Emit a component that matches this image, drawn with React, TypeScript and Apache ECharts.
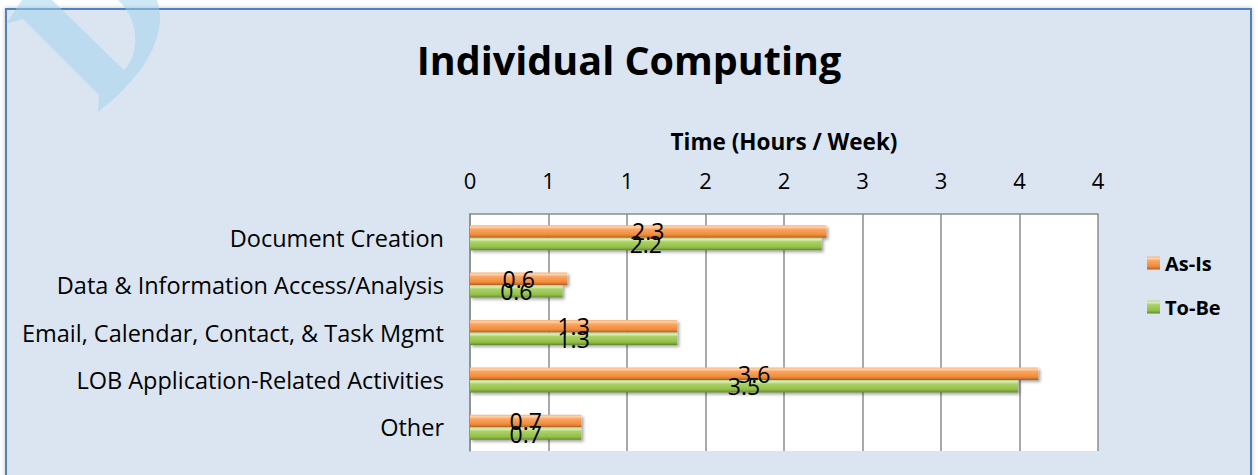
import React, { useEffect, useRef } from "react";
import * as echarts from "echarts";

const categories = [
  "Document Creation",
  "Data & Information Access/Analysis",
  "Email, Calendar, Contact, & Task Mgmt",
  "LOB Application-Related Activities",
  "Other",
];
const asIsValues = [2.27, 0.62, 1.32, 3.62, 0.71];
const toBeValues = [2.24, 0.59, 1.32, 3.49, 0.71];
const tickLabels = ["0", "1", "1", "2", "2", "3", "3", "4", "4"];
const seriesNames = ["As-Is", "To-Be"];

const WATERMARK_D =
  "M22 0 L52 0 L124 70 C140 55 140 20 118 0 L157 0 C168 30 150 72 98 112 L99 95 L23 19 L6 24 Z";

let registered = false;
function registerWatermark() {
  if (registered) return;
  registered = true;
  echarts.graphic.registerShape(
    "watermark",
    echarts.graphic.extendPath(WATERMARK_D, {}) as any
  );
}

const FONT = "'Open Sans', sans-serif";

const orangeGrad = {
  type: "linear",
  x: 0,
  y: 0,
  x2: 0,
  y2: 1,
  colorStops: [
    { offset: 0, color: "#f6b27a" },
    { offset: 0.15, color: "#fdd3ab" },
    { offset: 0.32, color: "#f9a663" },
    { offset: 0.75, color: "#f08c3b" },
    { offset: 0.9, color: "#d27229" },
    { offset: 1, color: "#a85a20" },
  ],
};
const greenGrad = {
  type: "linear",
  x: 0,
  y: 0,
  x2: 0,
  y2: 1,
  colorStops: [
    { offset: 0, color: "#b6d483" },
    { offset: 0.15, color: "#dcecb9" },
    { offset: 0.32, color: "#acd266" },
    { offset: 0.75, color: "#93c049" },
    { offset: 0.9, color: "#79a339" },
    { offset: 1, color: "#5f8229" },
  ],
};

export default function App() {
  const ref = useRef<HTMLDivElement>(null);
  useEffect(() => {
    if (!ref.current) return;
    registerWatermark();
    const chart = echarts.init(ref.current, undefined, { renderer: "svg" });
    const labelCommon = {
      show: true,
      position: "inside",
      color: "#000",
      fontFamily: FONT,
      fontSize: 23,
      formatter: (p: any) => Number(p.value).toFixed(1),
    };
    chart.setOption({
      animation: false,
      backgroundColor: "#ffffff",
      title: {
        text: "Individual Computing",
        left: "center",
        top: 35,
        textStyle: {
          fontFamily: FONT,
          fontWeight: "bold",
          fontSize: 39.5,
          color: "#000",
        },
      },
      legend: {
        orient: "vertical",
        left: 1142,
        top: 248,
        itemWidth: 13,
        itemHeight: 13,
        itemGap: 24,
        icon: "rect",
        data: seriesNames,
        textStyle: {
          fontFamily: FONT,
          fontWeight: "bold",
          fontSize: 20,
          color: "#000",
        },
      },
      graphic: [
        {
          type: "rect",
          z: -100,
          silent: true,
          shape: { x: 6, y: 9, width: 1245, height: 490 },
          style: {
            fill: "#dbe5f1",
            stroke: "#4f81bd",
            lineWidth: 2,
            shadowBlur: 4,
            shadowColor: "rgba(0,0,0,0.25)",
          },
        },
        {
          type: "watermark",
          z: 100,
          silent: true,
          x: 0,
          y: 0,
          style: { fill: "rgba(160,210,238,0.5)" },
        },
      ],
      grid: {
        left: 470,
        right: 160,
        top: 214,
        bottom: 24,
        show: true,
        backgroundColor: "#ffffff",
        borderWidth: 0,
      },
      xAxis: {
        type: "value",
        position: "top",
        min: 0,
        max: 4,
        interval: 0.5,
        name: "Time (Hours / Week)",
        nameLocation: "middle",
        nameGap: 61,
        nameTextStyle: {
          fontFamily: FONT,
          fontWeight: "bold",
          fontSize: 22.5,
          color: "#000",
        },
        axisLine: { show: true, lineStyle: { color: "#8c8c8c", width: 1.5 } },
        axisTick: { show: false },
        splitLine: { show: true, lineStyle: { color: "#8c8c8c", width: 1.5 } },
        axisLabel: {
          margin: 23,
          fontFamily: FONT,
          fontSize: 22,
          color: "#000",
          formatter: (v: number) => tickLabels[Math.round(v / 0.5)] ?? "",
        },
      },
      yAxis: {
        type: "category",
        inverse: true,
        data: categories,
        axisLine: { show: true, lineStyle: { color: "#8c8c8c", width: 1.5 } },
        axisTick: { show: false },
        axisLabel: {
          margin: 26,
          fontFamily: FONT,
          fontSize: 23.5,
          color: "#000",
        },
      },
      series: [
        {
          name: seriesNames[0],
          type: "bar",
          data: asIsValues,
          barWidth: 12.5,
          barGap: "0%",
          itemStyle: {
            color: orangeGrad,
            shadowBlur: 3,
            shadowOffsetX: 2,
            shadowOffsetY: 2,
            shadowColor: "rgba(0,0,0,0.35)",
          },
          label: labelCommon,
        },
        {
          name: seriesNames[1],
          type: "bar",
          data: toBeValues,
          barWidth: 12.5,
          barGap: "0%",
          itemStyle: {
            color: greenGrad,
            shadowBlur: 3,
            shadowOffsetX: 2,
            shadowOffsetY: 2,
            shadowColor: "rgba(0,0,0,0.35)",
          },
          label: labelCommon,
        },
      ],
    });
    return () => chart.dispose();
  }, []);
  return (
    <div
      ref={ref}
      style={{ position: "fixed", left: 0, top: 0, width: 1258, height: 475 }}
    />
  );
}
